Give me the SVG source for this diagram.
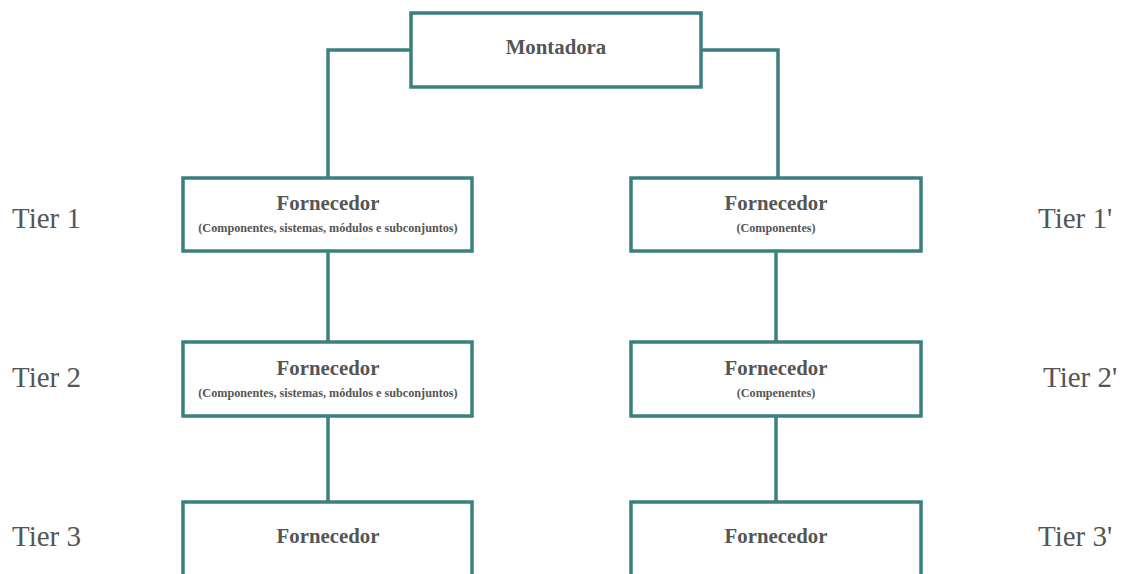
<svg xmlns="http://www.w3.org/2000/svg" width="1125" height="574" viewBox="0 0 1125 574">
<style>
.box{fill:#fff;stroke:#3b807e;stroke-width:3.5}
.conn{fill:none;stroke:#3b807e;stroke-width:3.5}
.t{font-family:"Liberation Serif",serif;font-weight:bold;fill:#555;text-anchor:middle}
.main{font-size:20.8px}
.sub{font-size:12.2px}
.tier{font-family:"Liberation Serif",serif;font-size:29px;fill:#555}
</style>
<rect width="1125" height="574" fill="#fff"/>
<g id="connectors">
<polyline class="conn" points="412,50 328,50 328,178"/>
<polyline class="conn" points="701,50 778,50 778,178"/>
<line class="conn" x1="328" y1="251" x2="328" y2="342"/>
<line class="conn" x1="328" y1="416" x2="328" y2="502"/>
<line class="conn" x1="776" y1="251" x2="776" y2="342"/>
<line class="conn" x1="776" y1="416" x2="776" y2="502"/>
</g>
<g id="montadora">
<rect class="box" x="411" y="13" width="290" height="74"/>
<text class="t main" x="556" y="54">Montadora</text>
</g>
<g id="l1">
<rect class="box" x="183" y="178" width="289" height="73"/>
<text class="t main" x="328" y="210">Fornecedor</text>
<text class="t sub" x="328" y="232">(Componentes,  sistemas, módulos e subconjuntos)</text>
</g>
<g id="r1">
<rect class="box" x="631" y="178" width="290" height="73"/>
<text class="t main" x="776" y="210">Fornecedor</text>
<text class="t sub" x="776" y="232">(Componentes)</text>
</g>
<g id="l2">
<rect class="box" x="183" y="342" width="289" height="74"/>
<text class="t main" x="328" y="375">Fornecedor</text>
<text class="t sub" x="328" y="397">(Componentes, sistemas, módulos e subconjuntos)</text>
</g>
<g id="r2">
<rect class="box" x="631" y="342" width="290" height="74"/>
<text class="t main" x="776" y="375">Fornecedor</text>
<text class="t sub" x="776" y="397">(Compenentes)</text>
</g>
<g id="l3">
<rect class="box" x="183" y="502" width="289" height="74"/>
<text class="t main" x="328" y="543">Fornecedor</text>
</g>
<g id="r3">
<rect class="box" x="631" y="502" width="290" height="74"/>
<text class="t main" x="776" y="543">Fornecedor</text>
</g>
<g id="tiers">
<text class="tier" x="12" y="228">Tier 1</text>
<text class="tier" x="12" y="387">Tier 2</text>
<text class="tier" x="12" y="546">Tier 3</text>
<text class="tier" x="1038" y="228">Tier 1'</text>
<text class="tier" x="1043" y="387">Tier 2'</text>
<text class="tier" x="1038" y="546">Tier 3'</text>
</g>
</svg>
